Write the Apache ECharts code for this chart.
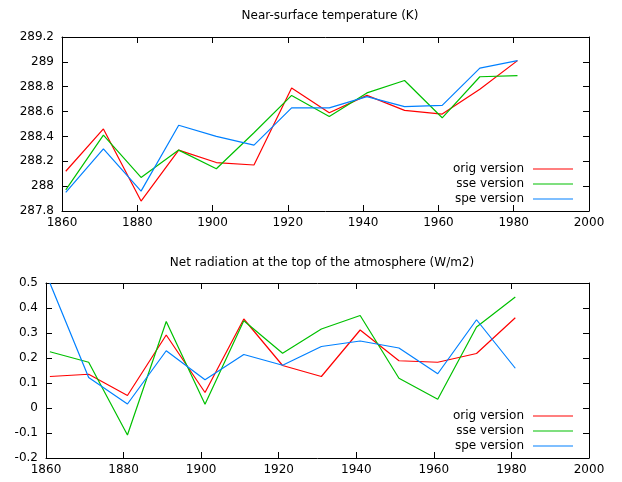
<!DOCTYPE html>
<html>
<head>
<meta charset="utf-8">
<script src="https://cdn.jsdelivr.net/npm/echarts@6/dist/echarts.min.js"></script>
<style>
  html, body { margin: 0; padding: 0; background: #fff; }
  #chart { width: 622px; height: 482px; }
</style>
</head>
<body>
<div id="chart"></div>
<script>
const years = [1861, 1871, 1881, 1891, 1901, 1911, 1921, 1931, 1941, 1951, 1961, 1971, 1981];

// near-surface temperature (K)
const tasOrig = [288.12, 288.46, 287.88, 288.29, 288.19, 288.17, 288.79, 288.59, 288.73, 288.61, 288.58, 288.78, 289.01];
const tasSse  = [287.97, 288.41, 288.07, 288.29, 288.14, 288.43, 288.73, 288.56, 288.75, 288.85, 288.55, 288.88, 288.89];
const tasSpe  = [287.95, 288.30, 287.96, 288.49, 288.40, 288.33, 288.63, 288.63, 288.72, 288.64, 288.65, 288.95, 289.01];

// net radiation at TOA (W/m2)
const radOrig = [0.126, 0.135, 0.050, 0.292, 0.062, 0.356, 0.170, 0.126, 0.312, 0.189, 0.183, 0.218, 0.361];
const radSse  = [0.225, 0.183, -0.108, 0.346, 0.015, 0.349, 0.219, 0.316, 0.370, 0.119, 0.035, 0.324, 0.444];
const radSpe  = [0.500, 0.122, 0.016, 0.229, 0.113, 0.214, 0.171, 0.246, 0.268, 0.240, 0.137, 0.353, 0.159];

const names = ['orig version', 'sse version', 'spe version'];
const colors = ['#ff0000', '#00c000', '#0080ff'];

const pairs = (vals) => years.map((y, i) => [y, vals[i]]);

const font = {fontFamily: 'DejaVu Sans', fontSize: 12, color: '#000'};

function xAxes(gi) {
    const base = {
        type: 'value', gridIndex: gi, min: 1860, max: 2000, interval: 20,
        splitLine: {show: false},
        axisLine: {show: true, onZero: false, lineStyle: {color: '#000'}},
        axisTick: {inside: true, length: 6, lineStyle: {color: '#000'}},
    };
    return [
        {...base, position: 'bottom', axisLabel: {...font, margin: 6, formatter: (v) => String(v)}},
        {...base, position: 'top', axisLabel: {show: false}},
    ];
}

function yAxes(gi, min, max, interval) {
    const base = {
        type: 'value', gridIndex: gi, min: min, max: max, interval: interval,
        splitLine: {show: false},
        axisLine: {show: true, onZero: false, lineStyle: {color: '#000'}},
        axisTick: {inside: true, length: 6, lineStyle: {color: '#000'}},
    };
    return [
        {...base, position: 'left', axisLabel: {...font, margin: 8}},
        {...base, position: 'right', axisLabel: {show: false}},
    ];
}

function lineSeries(name, color, vals, gi) {
    return {
        name: name,
        type: 'line',
        xAxisIndex: gi * 2,
        yAxisIndex: gi * 2,
        data: pairs(vals),
        symbol: 'none',
        lineStyle: {color: color, width: 1.2},
        itemStyle: {color: color},
    };
}

function legends(top0) {
    return names.map((n, i) => ({
        data: [n],
        orient: 'vertical',
        align: 'right',
        right: 49,
        top: top0 + i * 15,
        padding: 0,
        icon: 'rect',
        itemWidth: 40,
        itemHeight: 1.2,
        textStyle: {...font, padding: [0, 4, 0, 0]},
        selectedMode: false,
    }));
}

const chart = echarts.init(document.getElementById('chart'), null, {renderer: 'canvas'});

const option = {
    animation: false,
    backgroundColor: '#fff',
    title: [
        {text: 'Near-surface temperature (K)', left: 325, top: 5, textAlign: 'center',
         textStyle: {...font, fontWeight: 'normal'}},
        {text: 'Net radiation at the top of the atmosphere (W/m2)', left: 317, top: 252, textAlign: 'center',
         textStyle: {...font, fontWeight: 'normal'}},
    ],
    grid: [
        {left: 62, right: 33, top: 37, height: 174},
        {left: 46, right: 33, top: 283, height: 175},
    ],
    xAxis: [...xAxes(0), ...xAxes(1)],
    yAxis: [...yAxes(0, 287.8, 289.2, 0.2), ...yAxes(1, -0.2, 0.5, 0.1)],
    legend: [...legends(163), ...legends(410)],
    series: [
        lineSeries(names[0], colors[0], tasOrig, 0),
        lineSeries(names[1], colors[1], tasSse, 0),
        lineSeries(names[2], colors[2], tasSpe, 0),
        lineSeries(names[0], colors[0], radOrig, 1),
        lineSeries(names[1], colors[1], radSse, 1),
        lineSeries(names[2], colors[2], radSpe, 1),
    ],
};

chart.setOption(option);
</script>
</body>
</html>
